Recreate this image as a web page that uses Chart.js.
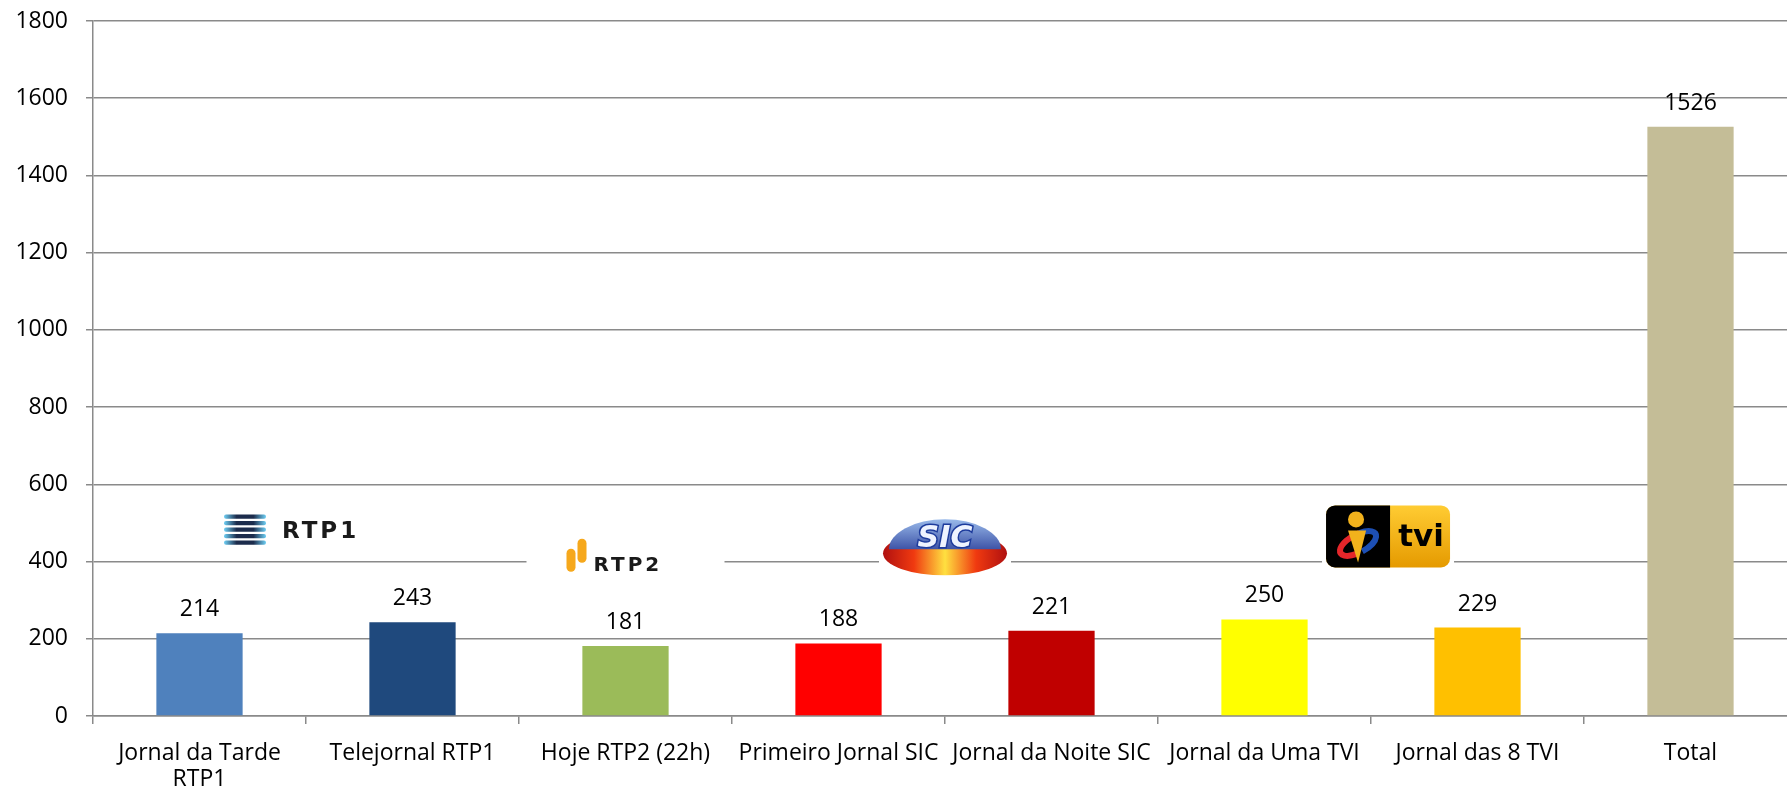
<!DOCTYPE html>
<html>
<head>
<meta charset="utf-8">
<script src="https://cdn.jsdelivr.net/npm/chart.js@4.4.0/dist/chart.umd.min.js"></script>
<style>
  html, body { margin: 0; padding: 0; background: #fff; overflow: hidden; }
  #wrap { width: 1800px; height: 794px; position: relative; }
</style>
</head>
<body>
<div id="wrap"><canvas id="chart"></canvas></div>
<script>
// chart data
const categories = [['Jornal da Tarde', 'RTP1'], 'Telejornal RTP1', 'Hoje RTP2 (22h)', 'Primeiro Jornal SIC',
    'Jornal da Noite SIC', 'Jornal da Uma TVI', 'Jornal das 8 TVI', 'Total'];
const values = [214, 243, 181, 188, 221, 250, 229, 1526];
const barColors = ['#4F81BD', '#1F497D', '#9BBB59', '#FF0000', '#C00000', '#FFFF00', '#FFC000', '#C4BD97'];
const yMin = 0;
const yMax = 1800;
const yStep = 200;

// channel logos: name, category position, value level
const logoNames = ['RTP1', 'RTP2', 'SIC', 'TVI'];
const logoAt = [0.5, 2.0, 3.5, 5.58];
const logoLevel = [480, 415, 442, 465];

const FONT = '"Open Sans", Lato, sans-serif';
const GRID = '#8a8a8a';

function drawRTP1(ctx, cx, cy) {
    ctx.fillStyle = '#fff';
    ctx.fillRect(cx - 94, cy - 30, 188, 60);
    for (let i = 0; i < 5; i++) {
        const y = cy - 14 + i * 6.5;
        const g = ctx.createLinearGradient(cx - 82, 0, cx - 40, 0);
        g.addColorStop(0, '#6fd0f5');
        g.addColorStop(0.3, '#1c2c4c');
        g.addColorStop(0.7, '#1c2c4c');
        g.addColorStop(1, '#6fd0f5');
        ctx.fillStyle = g;
        ctx.beginPath();
        ctx.roundRect(cx - 82, y - 2.2, 42, 4.4, 2);
        ctx.fill();
    }
    ctx.fillStyle = '#1a1a1a';
    ctx.font = 'bold 23px "DejaVu Sans", sans-serif';
    ctx.textAlign = 'left';
    ctx.textBaseline = 'middle';
    ctx.letterSpacing = '3px';
    ctx.fillText('RTP1', cx - 24, cy + 1);
    ctx.letterSpacing = '0px';
}

function drawRTP2(ctx, cx, cy) {
    ctx.fillStyle = '#fff';
    ctx.fillRect(cx - 99, cy - 32, 198, 64);
    ctx.fillStyle = '#f6a81c';
    ctx.beginPath();
    ctx.roundRect(cx - 59, cy - 7, 9, 23, 4.5);
    ctx.fill();
    ctx.beginPath();
    ctx.roundRect(cx - 48, cy - 17, 9, 24, 4.5);
    ctx.fill();
    ctx.fillStyle = '#1a1a1a';
    ctx.font = 'bold 20px "DejaVu Sans", sans-serif';
    ctx.textAlign = 'left';
    ctx.textBaseline = 'middle';
    ctx.letterSpacing = '3px';
    ctx.fillText('RTP2', cx - 32, cy + 10);
    ctx.letterSpacing = '0px';
}

function drawSIC(ctx, cx, cy) {
    ctx.fillStyle = '#fff';
    ctx.fillRect(cx - 66, cy - 32, 132, 64);
    // base ring
    const g = ctx.createLinearGradient(cx - 62, 0, cx + 62, 0);
    g.addColorStop(0, '#b01010');
    g.addColorStop(0.25, '#f03a10');
    g.addColorStop(0.5, '#ffe040');
    g.addColorStop(0.75, '#f03a10');
    g.addColorStop(1, '#b01010');
    ctx.fillStyle = g;
    ctx.beginPath();
    ctx.ellipse(cx, cy + 8, 62, 22, 0, 0, Math.PI * 2);
    ctx.fill();
    // dome
    const d = ctx.createLinearGradient(0, cy - 28, 0, cy + 10);
    d.addColorStop(0, '#9fc0ee');
    d.addColorStop(1, '#2b3f9a');
    ctx.fillStyle = d;
    ctx.beginPath();
    ctx.ellipse(cx, cy + 4, 56, 30, 0, Math.PI, Math.PI * 2);
    ctx.closePath();
    ctx.fill();
    ctx.font = 'italic bold 30px "DejaVu Sans", sans-serif';
    ctx.textAlign = 'center';
    ctx.textBaseline = 'middle';
    ctx.lineWidth = 3;
    ctx.strokeStyle = '#1d3b9c';
    ctx.strokeText('SIC', cx, cy - 6);
    ctx.fillStyle = '#eef3ff';
    ctx.fillText('SIC', cx, cy - 6);
}

function drawTVI(ctx, cx, cy) {
    const x0 = cx - 62, y0 = cy - 31;
    ctx.fillStyle = '#fff';
    ctx.fillRect(x0 - 4, y0 - 2, 132, 66);
    const g = ctx.createLinearGradient(0, y0, 0, y0 + 62);
    g.addColorStop(0, '#ffcc33');
    g.addColorStop(1, '#e59a00');
    ctx.fillStyle = g;
    ctx.beginPath();
    ctx.roundRect(x0, y0, 124, 62, 9);
    ctx.fill();
    ctx.fillStyle = '#000';
    ctx.beginPath();
    ctx.roundRect(x0, y0, 64, 62, [9, 0, 0, 9]);
    ctx.fill();
    // i logo
    ctx.lineWidth = 6;
    ctx.strokeStyle = '#e4262a';
    ctx.beginPath();
    ctx.ellipse(x0 + 32, y0 + 38, 20, 9, -0.5, Math.PI * 0.6, Math.PI * 1.6);
    ctx.stroke();
    ctx.strokeStyle = '#1d4fb4';
    ctx.beginPath();
    ctx.ellipse(x0 + 32, y0 + 38, 20, 9, -0.5, Math.PI * 1.6, Math.PI * 2.5);
    ctx.stroke();
    ctx.fillStyle = '#f2b21c';
    ctx.beginPath();
    ctx.arc(x0 + 30, y0 + 14, 8, 0, Math.PI * 2);
    ctx.fill();
    ctx.beginPath();
    ctx.moveTo(x0 + 22, y0 + 25);
    ctx.lineTo(x0 + 40, y0 + 25);
    ctx.lineTo(x0 + 32, y0 + 57);
    ctx.closePath();
    ctx.fill();
    ctx.fillStyle = '#000';
    ctx.font = 'bold 31px "DejaVu Sans", sans-serif';
    ctx.textAlign = 'center';
    ctx.textBaseline = 'middle';
    ctx.fillText('tvi', x0 + 95, y0 + 32);
}

const logoDrawers = { RTP1: drawRTP1, RTP2: drawRTP2, SIC: drawSIC, TVI: drawTVI };

const logoPlugin = {
    id: 'logos',
    beforeDatasetsDraw(chart) {
        const ctx = chart.ctx;
        const xs = chart.scales.x, ys = chart.scales.y;
        ctx.save();
        logoNames.forEach((name, i) => {
            logoDrawers[name](ctx, xs.getPixelForValue(logoAt[i]), ys.getPixelForValue(logoLevel[i]));
        });
        ctx.restore();
    }
};

const valueLabels = {
    id: 'valueLabels',
    afterDatasetsDraw(chart) {
        const ctx = chart.ctx;
        const meta = chart.getDatasetMeta(0);
        ctx.save();
        ctx.fillStyle = '#000';
        ctx.font = '23px ' + FONT;
        ctx.textAlign = 'center';
        ctx.textBaseline = 'alphabetic';
        meta.data.forEach((bar, i) => {
            ctx.fillText(values[i], bar.x, bar.y - 17);
        });
        ctx.restore();
    }
};

new Chart(document.getElementById('chart'), {
    type: 'bar',
    data: {
        labels: categories,
        datasets: [{
            data: values,
            backgroundColor: barColors,
            borderWidth: 0,
            barPercentage: 0.405,
            categoryPercentage: 1
        }]
    },
    options: {
        responsive: true,
        maintainAspectRatio: false,
        animation: false,
        layout: { padding: { top: 21, right: 3, bottom: 0, left: 0 } },
        plugins: {
            legend: { display: false },
            tooltip: { enabled: false }
        },
        scales: {
            x: {
                offset: true,
                grid: { drawOnChartArea: false, drawTicks: true, tickLength: 8, color: GRID, lineWidth: 1.5, offset: true },
                border: { display: true, color: GRID, width: 1.5 },
                ticks: {
                    color: '#000',
                    font: { family: FONT, size: 23, lineHeight: 1.15 },
                    padding: 16,
                    autoSkip: false,
                    maxRotation: 0,
                    minRotation: 0
                },
                afterFit(scale) { scale.height = 78; scale.paddingLeft = 0; scale.paddingRight = 0; }
            },
            y: {
                min: yMin,
                max: yMax,
                grid: { color: GRID, lineWidth: 1.5, tickLength: 7 },
                border: { display: true, color: GRID, width: 1.5 },
                ticks: {
                    stepSize: yStep,
                    color: '#000',
                    font: { family: FONT, size: 23 },
                    padding: 18,
                    callback: v => String(v)
                },
                afterFit(scale) { scale.width = 93; scale.paddingTop = 0; scale.paddingBottom = 0; }
            }
        }
    },
    plugins: [logoPlugin, valueLabels]
});
</script>
</body>
</html>
